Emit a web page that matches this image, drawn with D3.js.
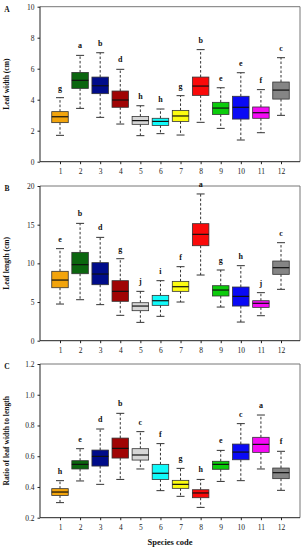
<!DOCTYPE html>
<html><head><meta charset="utf-8">
<script src="https://cdn.jsdelivr.net/npm/d3@7"></script>
<style>
body{margin:0;background:#fff;}
svg{display:block;font-family:"Liberation Serif","Times New Roman",serif;}
</style></head>
<body><svg id="c" width="304" height="550"></svg>
<script>
const species = [1,2,3,4,5,6,7,8,9,10,11,12];
const colors = ["#f2a40c","#0b660f","#000c8a","#a00404","#d6d6d6","#10fafa","#fcfc10","#fa0a0a","#0ccc0c","#0a0af5","#f50af5","#858585"];

// [whiskerLow, Q1, median, Q3, whiskerHigh]
const widthStats = [
  [1.70,2.52,2.90,3.23,4.13],[3.44,4.73,5.25,5.76,6.86],[2.86,4.39,4.90,5.46,7.03],
  [2.43,3.51,3.98,4.56,5.96],[1.68,2.41,2.65,2.92,3.61],[1.81,2.34,2.60,2.80,3.40],
  [1.72,2.60,2.95,3.31,4.26],[2.54,4.28,4.88,5.46,7.23],[2.15,3.05,3.46,3.83,4.77],
  [1.40,2.75,3.51,4.22,5.74],[1.87,2.80,3.16,3.53,4.65],[2.99,4.04,4.62,5.14,6.71]
];
const widthLetters = ["g","a","b","d","h","h","g","b","e","e","f","c"];

const lengthStats = [
  [4.74,6.85,7.84,8.97,11.9],[5.30,8.66,9.83,11.42,15.17],[4.66,7.24,8.62,10.09,13.36],
  [3.28,5.09,6.38,7.76,10.6],[2.37,3.88,4.48,4.91,6.38],[3.15,4.57,5.17,5.86,7.76],
  [5.00,6.38,6.98,7.67,9.57],[8.49,12.28,13.75,15.13,18.97],[4.35,5.78,6.55,7.11,9.14],
  [2.41,4.48,5.73,6.94,9.70],[3.23,4.31,4.83,5.17,6.21],[6.64,8.58,9.44,10.3,12.67]
];
const lengthLetters = ["e","b","d","g","j","i","f","a","g","h","j","c"];

const ratioStats = [
  [0.298,0.345,0.367,0.389,0.441],[0.439,0.517,0.547,0.571,0.649],[0.417,0.536,0.599,0.640,0.777],
  [0.449,0.588,0.651,0.718,0.879],[0.517,0.575,0.608,0.649,0.760],[0.376,0.449,0.489,0.547,0.682],
  [0.339,0.391,0.417,0.443,0.521],[0.267,0.330,0.361,0.382,0.449],[0.436,0.515,0.547,0.567,0.638],
  [0.441,0.577,0.627,0.679,0.812],[0.517,0.625,0.677,0.723,0.868],[0.378,0.454,0.493,0.523,0.632]
];
const ratioLetters = ["h","e","d","b","c","f","g","h","e","c","a","f"];

const widthTicks = [0,2,4,6,8,10];
const lengthTicks = [0,5,10,15,20];
const ratioTicks = [0.2,0.4,0.6,0.8,1.0,1.2];

const svg = d3.select("#c");
const x = d3.scaleLinear().domain([1,12]).range([60,281]);
const left = 40, right = 300;
const boxW = 16.5, capW = 8;

const panels = [
  {label:"A", title:"Leaf width (cm)", stats:widthStats, letters:widthLetters, ticks:widthTicks,
   domain:[0,10], top:6.7, bottom:161.7, fmt:d3.format("d")},
  {label:"B", title:"Leaf length (cm)", stats:lengthStats, letters:lengthLetters, ticks:lengthTicks,
   domain:[0,20], top:186, bottom:340.7, fmt:d3.format("d")},
  {label:"C", title:"Ratio of leaf width to length", stats:ratioStats, letters:ratioLetters, ticks:ratioTicks,
   domain:[0.2,1.2], top:364, bottom:517.7, fmt:d3.format(".1f")}
];

panels.forEach(p => {
  const y = d3.scaleLinear().domain(p.domain).range([p.bottom, p.top]);
  const g = svg.append("g");
  // frame top/right
  g.append("path").attr("d",`M${left},${p.top}H${right}V${p.bottom}`)
    .attr("fill","none").attr("stroke","#777").attr("stroke-width",1);
  // boxes
  species.forEach((s,i) => {
    const st = p.stats[i], cx = x(s);
    const bg = g.append("g");
    bg.append("line").attr("x1",cx).attr("x2",cx).attr("y1",y(st[3])).attr("y2",y(st[4]))
      .attr("stroke","#333").attr("stroke-width",1).attr("stroke-dasharray","2.5,2");
    bg.append("line").attr("x1",cx).attr("x2",cx).attr("y1",y(st[1])).attr("y2",y(st[0]))
      .attr("stroke","#333").attr("stroke-width",1).attr("stroke-dasharray","2.5,2");
    [st[0],st[4]].forEach(v => bg.append("line").attr("x1",cx-capW/2).attr("x2",cx+capW/2)
      .attr("y1",y(v)).attr("y2",y(v)).attr("stroke","#333").attr("stroke-width",1));
    bg.append("rect").attr("x",cx-boxW/2).attr("width",boxW).attr("y",y(st[3]))
      .attr("height",y(st[1])-y(st[3])).attr("fill",colors[i]).attr("stroke","#333").attr("stroke-width",0.8);
    bg.append("line").attr("x1",cx-boxW/2).attr("x2",cx+boxW/2).attr("y1",y(st[2])).attr("y2",y(st[2]))
      .attr("stroke","#111").attr("stroke-width",1.2);
    bg.append("text").attr("x",cx).attr("y",y(st[4])-7).attr("text-anchor","middle")
      .attr("font-size",8).attr("font-weight","bold").attr("fill","#111").text(p.letters[i]);
  });
  // axes
  const ya = g.append("g").attr("transform",`translate(${left},0)`)
    .call(d3.axisLeft(y).tickValues(p.ticks).tickFormat(p.fmt).tickSize(2.5).tickPadding(3));
  const xa = g.append("g").attr("transform",`translate(0,${p.bottom})`)
    .call(d3.axisBottom(x).tickValues(species).tickFormat(d3.format("d")).tickSize(2.5).tickPadding(4));
  [ya,xa].forEach(a => {
    a.select(".domain").remove();
    a.selectAll("line").attr("stroke","#222");
    a.selectAll("text").attr("font-size",7.5).attr("font-family","Liberation Serif, serif").attr("fill","#222");
  });
  g.append("line").attr("x1",left).attr("x2",left).attr("y1",p.top).attr("y2",p.bottom).attr("stroke","#222");
  g.append("line").attr("x1",left).attr("x2",right).attr("y1",p.bottom).attr("y2",p.bottom).attr("stroke","#222");
  // titles
  g.append("text").attr("x",7).attr("y",p.top+5).attr("font-size",7.5).attr("font-weight","bold")
    .attr("text-anchor","middle").attr("fill","#111").text(p.label);
  g.append("text").attr("transform",`translate(9.3,${(p.top+p.bottom)/2}) rotate(-90)`)
    .attr("text-anchor","middle").attr("font-size",7.5).attr("font-weight","bold").attr("fill","#111").text(p.title);
});

svg.append("text").attr("x",170).attr("y",545).attr("text-anchor","middle")
  .attr("font-size",8.5).attr("font-weight","bold").attr("fill","#111").text("Species code");
</script></body></html>
